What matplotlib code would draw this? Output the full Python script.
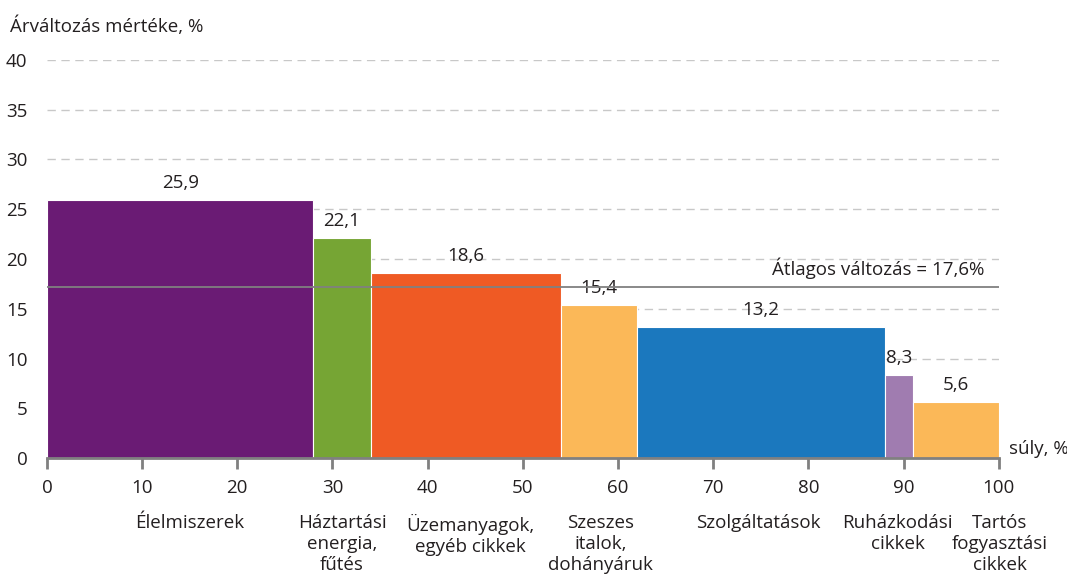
import matplotlib.pyplot as plt

plt.rcParams["font.family"] = ["Open Sans", "DejaVu Sans"]

# category weights (share of consumption, %) and price change (%)
categories = [
    "Élelmiszerek",
    "Háztartási\nenergia,\nfűtés",
    "Üzemanyagok,\negyéb cikkek",
    "Szeszes\nitalok,\ndohányáruk",
    "Szolgáltatások",
    "Ruházkodási\ncikkek",
    "Tartós\nfogyasztási\ncikkek",
]
weights = [28.0, 6.0, 20.0, 8.0, 26.0, 3.0, 9.0]
changes = [25.9, 22.1, 18.6, 15.4, 13.2, 8.3, 5.6]
value_labels = ["25,9", "22,1", "18,6", "15,4", "13,2", "8,3", "5,6"]
colors = ["#6a1b74", "#76a534", "#ef5a24", "#fbb858", "#1b78be", "#a07cb0", "#fbb858"]
cat_label_x = [15.0, 31.0, 44.5, 58.2, 74.7, 89.4, 100.1]
avg_line = 17.2
avg_text = "Átlagos változás = 17,6%"

FS = 13.5
TXT = "#231f20"

fig = plt.figure(figsize=(10.67, 5.82), dpi=100)
ax = fig.add_axes([0.044, 0.213, 0.892, 0.684])

lefts = [sum(weights[:i]) for i in range(len(weights))]
ax.bar(lefts, changes, width=weights, align="edge", color=colors,
       edgecolor="white", linewidth=0.8, zorder=2)

for l, w, v, t in zip(lefts, weights, changes, value_labels):
    ax.text(l + w / 2, v + 0.8, t, ha="center", va="bottom", fontsize=FS, color=TXT)

ax.plot([0, 100], [avg_line, avg_line], color="#808080", lw=1.3, zorder=3)
ax.text(98.5, avg_line + 0.8, avg_text, ha="right", va="bottom", fontsize=FS, color=TXT)

ax.set_xlim(0, 100)
ax.set_ylim(0, 40)
ax.set_yticks(range(0, 41, 5))
ax.set_xticks(range(0, 101, 10))
ax.yaxis.grid(True, ls=(0, (6, 4)), color="#c8c8c8", lw=1, zorder=0)
ax.set_axisbelow(True)

for s in ["top", "right", "left"]:
    ax.spines[s].set_visible(False)
ax.spines["bottom"].set_color("#808080")
ax.spines["bottom"].set_linewidth(2)
ax.spines["bottom"].set_zorder(4)
ax.tick_params(axis="x", length=8, width=2, color="#808080", pad=7, labelsize=FS, labelcolor=TXT)
ax.tick_params(axis="y", length=0, pad=14, labelsize=FS, labelcolor=TXT)

for x, c in zip(cat_label_x, categories):
    ax.text(x, -5.6, c, ha="center", va="top", fontsize=FS, color=TXT,
            linespacing=1.22, clip_on=False)

fig.text(0.009, 0.955, "Árváltozás mértéke, %", fontsize=FS, color=TXT, va="center")
fig.text(0.946, 0.228, "súly, %", fontsize=FS, color=TXT, va="center")

fig.savefig("out.png", dpi=100)
